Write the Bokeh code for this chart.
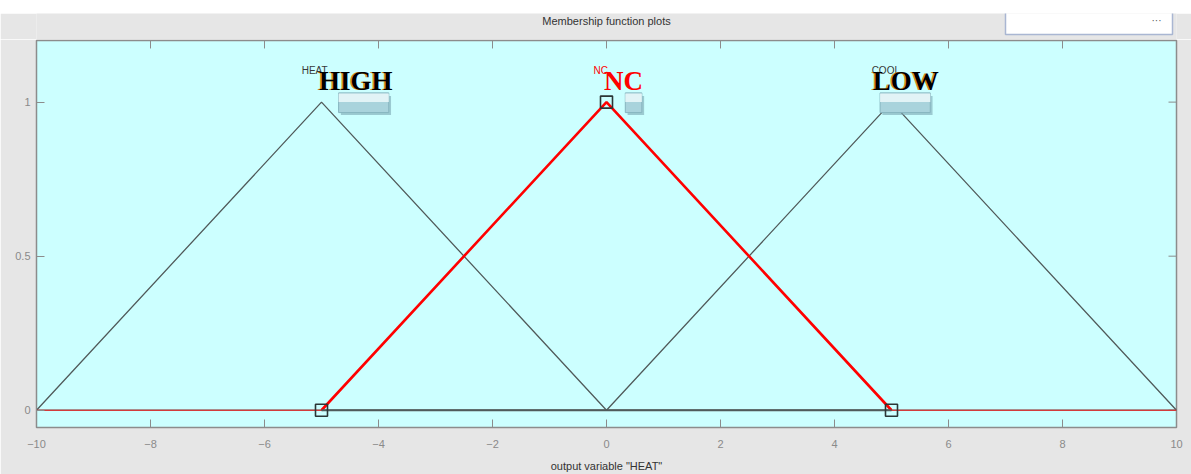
from bokeh.plotting import figure
from bokeh.models import Range1d, FixedTicker, Spacer
from bokeh.layouts import column
from bokeh.core.properties import value
from bokeh.embed import file_html
from bokeh.resources import INLINE

# ---- data ----
mf_names = ["HIGH", "NC", "LOW"]
mf_small = ["HEAT", "NC", "COOL"]
mf_a = [-10, -5, 0]
mf_b = [-5, 0, 5]
mf_c = [0, 5, 10]
x_min, x_max = -10, 10
y_min, y_max = -0.056, 1.2
x_ticks = [-10, -8, -6, -4, -2, 0, 2, 4, 6, 8, 10]
y_ticks = [0, 0.5, 1]
y_tick_labels = ["0", "0.5", "1"]
title_text = "Membership function plots"
xlabel_text = 'output variable "HEAT"'
selected = 1  # NC highlighted

GRAY_BG = "#e6e6e6"
CYAN = "#ccffff"
LINE = "#505a5a"
AXC = "#8c8c8c"

W = 1191
TOP_WHITE = 13
STRIP_H = 26
H = 435
ML, MR, MT, MB = 36, 15, 1, 46
frame_w = W - ML - MR
frame_h = H - MT - MB

# ---- top strip: title and window box (its frame is aligned with the main frame,
#      so the x range is expressed in page pixels) ----
s = figure(width=W, height=STRIP_H, output_backend="svg", toolbar_location=None,
           x_range=Range1d(ML, W - MR), y_range=Range1d(0, STRIP_H),
           x_axis_location=None, y_axis_location=None,
           min_border_left=ML, min_border_right=MR, min_border_top=0, min_border_bottom=0)
s.background_fill_color = GRAY_BG
s.border_fill_color = GRAY_BG
s.outline_line_color = None
s.grid.visible = False
s.text([ML + frame_w / 2], [STRIP_H - 7], text=[title_text],
       text_font=value("Liberation Sans"), text_font_size="11px", text_color="#333333",
       text_align="center", text_baseline="middle")
s.quad(left=[1005], right=[1172], bottom=[STRIP_H - 21], top=[STRIP_H + 2],
       fill_color="white", line_color="#a9b6d2", line_width=1.5)
s.text([1156], [STRIP_H - 1], text=["···"],
       text_font=value("Liberation Sans"), text_font_size="10px", text_color="#555555",
       text_align="center", text_baseline="top")

# ---- main plot ----
p = figure(width=W, height=H, output_backend="svg", toolbar_location=None,
           x_range=Range1d(x_min, x_max), y_range=Range1d(y_min, y_max),
           min_border_left=ML, min_border_right=MR, min_border_top=MT, min_border_bottom=MB)
p.background_fill_color = CYAN
p.border_fill_color = GRAY_BG
p.outline_line_color = AXC
p.outline_line_width = 1.5
p.grid.visible = False

def style_axis(ax):
    ax.axis_line_color = AXC
    ax.major_tick_in = 8
    ax.major_tick_out = 0
    ax.major_tick_line_color = AXC
    ax.minor_tick_line_color = None
    ax.major_label_text_font = "Liberation Sans"
    ax.major_label_text_font_size = "11px"
    ax.major_label_text_color = "#8a8a8a"

xa = p.xaxis[0]
xa.ticker = FixedTicker(ticks=x_ticks)
style_axis(xa)
xa.major_label_standoff = 12
xa.axis_label = xlabel_text
xa.axis_label_text_font = "Liberation Sans"
xa.axis_label_text_font_size = "11px"
xa.axis_label_text_font_style = "normal"
xa.axis_label_text_color = "#333333"
xa.axis_label_standoff = 9

ya = p.yaxis[0]
ya.ticker = FixedTicker(ticks=y_ticks)
ya.major_label_overrides = {t: s_ for t, s_ in zip(y_ticks, y_tick_labels)}
style_axis(ya)
ya.major_label_standoff = 6

# inward ticks on the top and right edges (8 px long)
tick_dy = 8 * (y_max - y_min) / frame_h
tick_dx = 8 * (x_max - x_min) / frame_w
p.segment(x0=x_ticks, x1=x_ticks, y0=[y_max] * len(x_ticks), y1=[y_max - tick_dy] * len(x_ticks),
          line_color=AXC, line_width=1)
p.segment(x0=[x_max] * len(y_ticks), x1=[x_max - tick_dx] * len(y_ticks), y0=y_ticks, y1=y_ticks,
          line_color=AXC, line_width=1)

# ---- membership functions ----
for i, (a, b, c) in enumerate(zip(mf_a, mf_b, mf_c)):
    if i == selected:
        continue
    p.line([x_min, a, b, c, x_max], [0, 0, 1, 0, 0], line_color=LINE, line_width=1.3)

a, b, c = mf_a[selected], mf_b[selected], mf_c[selected]
p.line([x_min, a], [0, 0], line_color="#ff3030", line_width=1.2)
p.line([c, x_max], [0, 0], line_color="#ff3030", line_width=1.2)
p.line([a, b, c], [0, 1, 0], line_color="#ff0000", line_width=2.6)
p.line([a, c], [0, 0], line_color=LINE, line_width=2.2)
p.scatter([a, b, c], [0, 1, 0], marker="square", size=12, fill_color=None,
          line_color="#2b3535", line_width=1.6)

# ---- labels ----
small_dx = [-0.12, -0.1, -0.1]
big_dx = [0.6, 0.3, 0.25]
btn_dx = [(0.3, 1.18), (0.33, 0.62), (-0.2, 0.68)]
name_colors = ["black", "red", "black"]
for i, name in enumerate(mf_names):
    peak = mf_b[i]
    l, r = btn_dx[i]
    # button-like box (shadow, body, highlight)
    p.quad(left=[peak + l + 0.04], right=[peak + r + 0.04], top=[1.02], bottom=[0.958],
           fill_color="#7aa7b2", fill_alpha=0.6, line_color=None)
    p.quad(left=[peak + l], right=[peak + r], top=[1.03], bottom=[0.966],
           fill_color="#a9d3dc", line_color="#86b4bf", line_width=1)
    p.quad(left=[peak + l], right=[peak + r], top=[1.028], bottom=[1.0],
           fill_color="#e2f3f6", line_color=None)
    # small original label
    p.text([peak + small_dx[i]], [1.085], text=[mf_small[i]],
           text_font=value("Liberation Sans"), text_font_size="10px",
           text_color="red" if i == selected else "#383838",
           text_align="center", text_baseline="bottom")
    # big overlay label with orange shadow
    if i != selected:
        p.text([peak + big_dx[i]], [1.068], text=[name],
               text_font=value("Liberation Serif"), text_font_size="27px",
               text_font_style="bold", text_color="#d89020",
               text_align="center", text_baseline="alphabetic", x_offset=-1.5)
    p.text([peak + big_dx[i]], [1.068], text=[name],
           text_font=value("Liberation Serif"), text_font_size="27px",
           text_font_style="bold", text_color=name_colors[i],
           text_align="center", text_baseline="alphabetic")

page = column(Spacer(width=W, height=TOP_WHITE), s, p, spacing=0)
open("out.html", "w").write(file_html(page, INLINE))
